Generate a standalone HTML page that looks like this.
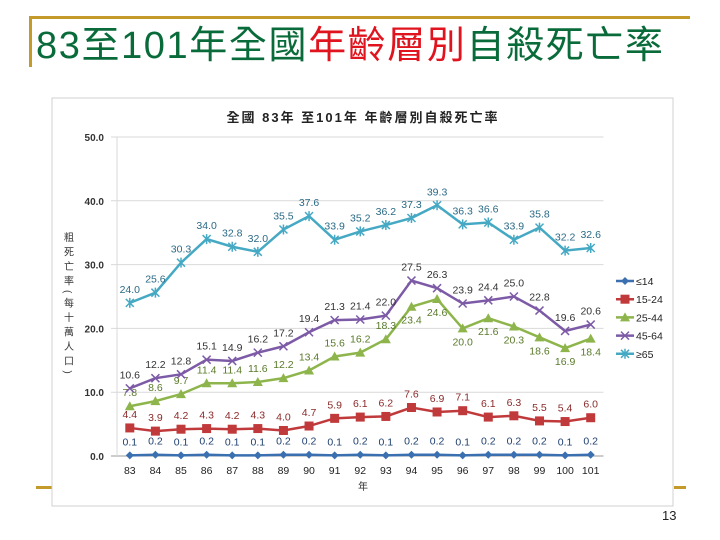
<!DOCTYPE html>
<html><head><meta charset="utf-8"><style>
body{margin:0;width:720px;height:540px;background:#fff;position:relative;overflow:hidden;font-family:"Liberation Sans","Noto Sans CJK TC",sans-serif}
.abs{position:absolute}
</style></head><body>
<div class="abs" style="left:30px;top:16px;width:660px;height:3px;background:#c49a2a"></div>
<div class="abs" style="left:29px;top:16px;width:3px;height:51px;background:#c49a2a"></div>
<div class="abs" style="left:36px;top:24px;font-size:38px;line-height:44px;letter-spacing:1.6px;color:#0a6b3a;white-space:nowrap;font-family:'Liberation Sans','Noto Sans CJK TC',sans-serif">83至101年全國<span style="color:#e0141e">年齡層別</span>自殺死亡率</div>
<div class="abs" style="left:36px;top:486px;width:16px;height:3px;background:#c49a2a"></div>
<div class="abs" style="left:674px;top:486px;width:12px;height:3px;background:#c49a2a"></div>
<div class="abs" style="left:662px;top:508px;font-size:13px;color:#222">13</div>
<svg class="abs" style="left:0;top:0" width="720" height="540">
<rect x="52" y="98" width="621" height="408" fill="#fff" stroke="#d0d0d0"/>
<text x="363" y="122" font-size="13" font-weight="bold" text-anchor="middle" fill="#222" letter-spacing="2">全國 83年 至101年 年齡層別自殺死亡率</text>
<g id="grid"></g><g id="series"></g><g id="legend"></g>
<text x="363" y="490" font-size="10" text-anchor="middle" fill="#333">年</text>
<text font-size="10" fill="#333" style="writing-mode:vertical-rl" x="67" y="232" letter-spacing="4.5">粗死亡率(每十萬人口)</text>
</svg>
<script>
const years=['83','84','85','86','87','88','89','90','91','92','93','94','95','96','97','98','99','100','101'];
const s14=[0.1,0.2,0.1,0.2,0.1,0.1,0.2,0.2,0.1,0.2,0.1,0.2,0.2,0.1,0.2,0.2,0.2,0.1,0.2];
const s1524=[4.4,3.9,4.2,4.3,4.2,4.3,4.0,4.7,5.9,6.1,6.2,7.6,6.9,7.1,6.1,6.3,5.5,5.4,6.0];
const s2544=[7.8,8.6,9.7,11.4,11.4,11.6,12.2,13.4,15.6,16.2,18.3,23.4,24.6,20.0,21.6,20.3,18.6,16.9,18.4];
const s4564=[10.6,12.2,12.8,15.1,14.9,16.2,17.2,19.4,21.3,21.4,22.0,27.5,26.3,23.9,24.4,25.0,22.8,19.6,20.6];
const s65=[24.0,25.6,30.3,34.0,32.8,32.0,35.5,37.6,33.9,35.2,36.2,37.3,39.3,36.3,36.6,33.9,35.8,32.2,32.6];
const yTicks=[0,10,20,30,40,50];
const names=['≤14','15-24','25-44','45-64','≥65'];
const NS='http://www.w3.org/2000/svg';
const L=117,R=603.5,T=137,B=456;
const step=(R-L)/years.length;
const X=i=>L+step*(i+0.5);
const Y=v=>B-(v/50)*(B-T);
function mk(tag,attrs,parent,txt){const e=document.createElementNS(NS,tag);for(const k in attrs)e.setAttribute(k,attrs[k]);if(txt!==undefined)e.textContent=txt;parent.appendChild(e);return e;}
const grid=document.getElementById('grid');
yTicks.forEach(t=>{
 const l=mk('line',{x1:L-6,x2:R,y1:Y(t),y2:Y(t),stroke:t===0?'#999':'#d9d9d9'},grid);
 
 
 const tx=mk('text',{x:L-13,y:Y(t)+4,'font-size':10,'font-weight':'bold','text-anchor':'end',fill:'#333'},grid,t.toFixed(1));
 
 
});
const ax=mk('line',{x1:L,x2:L,y1:T,y2:B,stroke:'#d9d9d9'},grid);


years.forEach((y,i)=>{
 const tx=mk('text',{x:X(i),y:B+18,'font-size':10.5,'text-anchor':'middle',fill:'#222'},grid,y);
 
 
});
const cfg=[
 {d:s14,c:'#3a6fb0',lc:'#1f3f6e',m:'diamond',below:19},
 {d:s1524,c:'#c0393b',lc:'#8a2a2a',m:'square',below:19},
 {d:s2544,c:'#8db54b',lc:'#5a7a2a',m:'tri',below:11},
 {d:s4564,c:'#7d5aa6',lc:'#333',m:'x',below:19},
 {d:s65,c:'#46a9c4',lc:'#2a6a86',m:'star',below:19}
];
const sg=document.getElementById('series');
function marker(m,x,y,c,p){
 let e;
 if(m==='diamond')e=mk('polygon',{points:`${x},${y-4} ${x+4},${y} ${x},${y+4} ${x-4},${y}`,fill:c},p);
 else if(m==='square')e=mk('rect',{x:x-4.5,y:y-4.5,width:9,height:9,fill:c},p);
 else if(m==='tri')e=mk('polygon',{points:`${x},${y-5} ${x+5},${y+4} ${x-5},${y+4}`,fill:c},p);
 else if(m==='x')e=mk('path',{d:`M${x-4} ${y-4}L${x+4} ${y+4}M${x+4} ${y-4}L${x-4} ${y+4}`,stroke:c,'stroke-width':1.5},p);
 else e=mk('path',{d:`M${x-4} ${y-4}L${x+4} ${y+4}M${x+4} ${y-4}L${x-4} ${y+4}M${x} ${y-5}L${x} ${y+5}`,stroke:c,'stroke-width':1.5},p);
 
 
}
cfg.forEach((s,k)=>{
 const g=mk('g',{},sg);
 
 
 const pl=mk('polyline',{points:s.d.map((v,i)=>X(i)+','+Y(v)).join(' '),fill:'none',stroke:s.c,'stroke-width':2.5},g);
 
 
 s.d.forEach((v,i)=>{
  marker(s.m,X(i),Y(v),s.c,g);
  const dy=i>=s.below?17:-10;
  const t=mk('text',{x:X(i),y:Y(v)+dy,'font-size':10.5,'text-anchor':'middle',fill:s.lc},g,v.toFixed(1));
  
  
 });
});
const lg=document.getElementById('legend');
names.forEach((n,k)=>{
 const y=281+k*18.2;
 const g=mk('g',{},lg);
 
 
 mk('line',{x1:616,x2:634,y1:y,y2:y,stroke:cfg[k].c,'stroke-width':2.5},g);
 marker(cfg[k].m,625,y,cfg[k].c,g);
 mk('text',{x:636,y:y+4,'font-size':10.5,fill:'#222'},g,n);
});
</script>
</body></html>
